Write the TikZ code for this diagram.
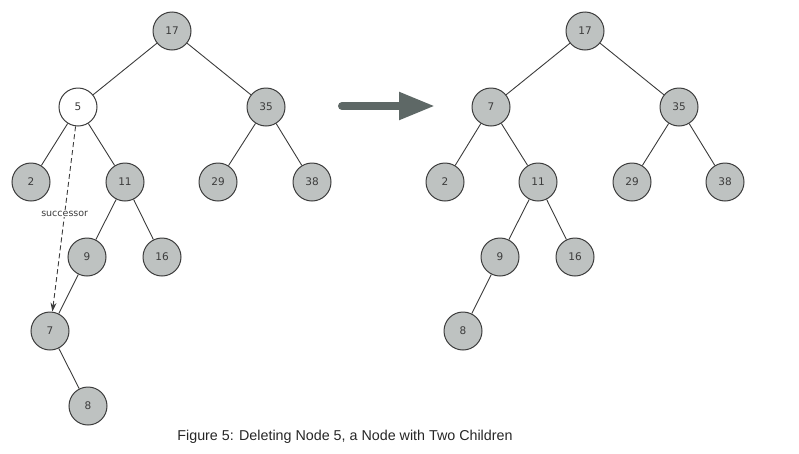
\documentclass[tikz,border=0pt]{standalone}
\usepackage{fontspec}
\newfontfamily\numfont{DejaVu Sans}
\newfontfamily\capfont{Liberation Sans}
\usetikzlibrary{arrows.meta}
\definecolor{nodegray}{HTML}{BEC2C1}
\definecolor{linegray}{HTML}{3C3C3C}
\definecolor{bigarrow}{HTML}{5E6866}
\tikzset{>={Stealth[length=9pt, width=6pt]}}
\tikzset{vert/.style={draw=linegray, circle, line width=1pt, minimum size=38pt, inner sep=0pt, fill=nodegray, text=linegray, font=\numfont\fontsize{10.5}{12}\selectfont}}
\tikzset{ed/.style={draw=linegray, line width=0.9pt}}
\tikzset{lab/.style={fill=white, inner sep=1pt, text=linegray, font=\numfont\fontsize{9.5}{11}\selectfont}}

\begin{document}
\begin{tikzpicture}[x=1pt, y=-1pt]
\useasboundingbox (0,0) rectangle (799,453);

% before
\node[vert] (a17) at (172, 31) {17};
\node[vert, fill=white] (a5) at (78, 107) {5};
\node[vert] (a35) at (266, 107) {35};
\node[vert] (a2) at (31, 182) {2};
\node[vert] (a11) at (125, 182) {11};
\node[vert] (a29) at (218, 182) {29};
\node[vert] (a38) at (312, 182) {38};
\node[vert] (a9) at (87, 257) {9};
\node[vert] (a16) at (162, 257) {16};
\node[vert] (a7) at (50, 331) {7};
\node[vert] (a8) at (88, 406) {8};

\draw[ed] (a17) -- (a5);
\draw[ed] (a17) -- (a35);
\draw[ed] (a5) -- (a2);
\draw[ed] (a5) -- (a11);
\draw[ed] (a35) -- (a29);
\draw[ed] (a35) -- (a38);
\draw[ed] (a11) -- (a9);
\draw[ed] (a11) -- (a16);
\draw[ed] (a9) -- (a7);
\draw[ed] (a7) -- (a8);

\draw[->, dash pattern=on 5pt off 3pt, draw=linegray, line width=0.9pt] (a5) -- node[lab, pos=0.47] {successor} (a7);

% the big arrow
\coordinate (from) at (342, 106);
\coordinate (to) at (435, 106);
\draw[bigarrow, line width=8pt, line cap=round, -{Triangle[length=36pt, width=26pt]}] (from) -- (to);

% after
\node[vert] (b17) at (585, 31) {17};
\node[vert] (b7) at (491, 107) {7};
\node[vert] (b35) at (679, 107) {35};
\node[vert] (b2) at (445, 182) {2};
\node[vert] (b11) at (538, 182) {11};
\node[vert] (b29) at (632, 182) {29};
\node[vert] (b38) at (725, 182) {38};
\node[vert] (b9) at (500, 257) {9};
\node[vert] (b16) at (575, 257) {16};
\node[vert] (b8) at (463, 331) {8};

\draw[ed] (b17) -- (b7);
\draw[ed] (b17) -- (b35);
\draw[ed] (b7) -- (b2);
\draw[ed] (b7) -- (b11);
\draw[ed] (b35) -- (b29);
\draw[ed] (b35) -- (b38);
\draw[ed] (b11) -- (b9);
\draw[ed] (b11) -- (b16);
\draw[ed] (b9) -- (b8);

\node[font=\capfont\fontsize{14.3}{16}\selectfont, text=black!85] (caption) at (345, 437) {Figure 5: Deleting Node 5, a Node with Two Children};
\end{tikzpicture}
\end{document}
